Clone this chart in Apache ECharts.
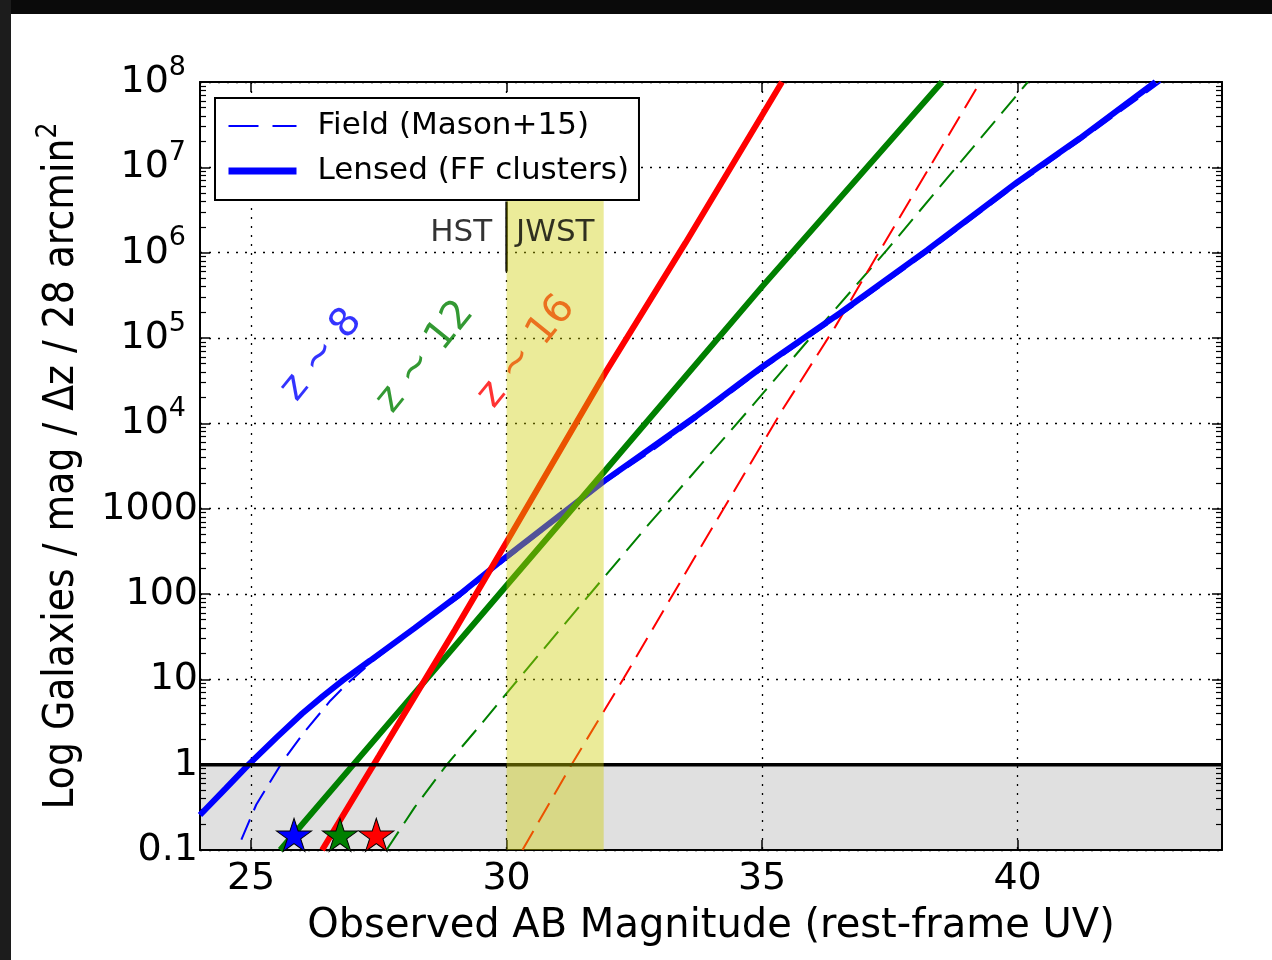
<!DOCTYPE html>
<html>
<head>
<meta charset="utf-8">
<script src="https://cdn.jsdelivr.net/npm/echarts@6/dist/echarts.min.js"></script>
<style>
  html, body { margin: 0; padding: 0; background: #fff; }
  #chart { width: 1272px; height: 960px; }
</style>
</head>
<body>
<div id="chart"></div>
<script>
// ---------- data ----------
// x: observed AB magnitude, y: galaxies / mag / dz / 28 arcmin^2
const xTicks = [25, 30, 35, 40];
const yTicks = [0.1, 1, 10, 100, 1000, 1e4, 1e5, 1e6, 1e7, 1e8];
const yTickLabels = ["0.1", "1", "10", "100", "1000", "10^4", "10^5", "10^6", "10^7", "10^8"];

// field (Mason+15), dashed
const fieldZ8Mag = [24.81, 25.1, 25.63, 26.0, 26.55, 26.9, 27.4, 28.2, 29.09, 30.0, 31.9, 32.8, 33.7, 34.57, 35.0, 36.52, 38.23, 40.0, 41.22, 42.8];
const fieldZ8N = [0.132, 0.339, 1.12, 2.24, 5.62, 9.12, 16.6, 38.9, 93.3, 257, 1990, 4570, 1.12e4, 2.75e4, 4.27e4, 1.82e5, 1.0e6, 6.31e6, 2.04e7, 1e8];
const fieldZ12Mag = [27.65, 28.2, 28.83, 29.48, 30.13, 31.04, 32.8, 34.8, 35.97, 37.44, 40.2];
const fieldZ12N = [0.1, 0.316, 1.0, 2.88, 8.51, 38, 676, 1.58e4, 1.05e5, 1.07e6, 1e8];
const fieldZ16Mag = [30.31, 31.27, 32.28, 33.8, 35.41, 36.43, 37.31, 39.27];
const fieldZ16N = [0.1, 1, 10, 355, 1.48e4, 1.35e5, 1.07e6, 1e8];

// lensed (FF clusters), solid
const lensZ8Mag = [24.0, 24.5, 24.95, 25.5, 26.0, 26.4, 26.8, 27.33, 28.2, 29.09, 30.0, 31.9, 32.8, 33.7, 34.57, 35.0, 36.52, 38.23, 40.0, 41.22, 42.7];
const lensZ8N = [0.257, 0.525, 1.0, 2.09, 3.98, 6.31, 9.77, 16.6, 39.8, 100, 275, 2090, 5010, 1.2e4, 2.95e4, 4.57e4, 1.95e5, 1.07e6, 6.76e6, 2.19e7, 1e8];
const lensZ12Mag = [25.57, 27.0, 28.43, 30.0, 31.93, 35.0, 38.52];
const lensZ12N = [0.1, 1.0, 10, 126, 2800, 4.0e5, 1e8];
const lensZ16Mag = [26.39, 27.5, 28.99, 30.0, 31.93, 33.5, 35.39];
const lensZ16N = [0.1, 1.26, 38, 407, 3.9e4, 1.3e6, 1e8];

// brightest observed objects (stars)
const starMag = [25.84, 26.74, 27.45];
const starN = [0.15, 0.15, 0.15];

// annotations
const zText = ["z ~ 8", "z ~ 12", "z ~ 16"];
const zTextMag = [26.38, 28.41, 30.39];
const zTextN = [6.3e4, 6.0e4, 6.9e4];

const jwstBand = [30.0, 31.9];      // magnitude range
const jwstBandTop = 4.47e6;
const hstLine = [6.03e5, 3.98e6];   // y range of the HST|JWST divider
const hstTextN = 1.7e6;

const BLUE = "#0000ff", GREEN = "#008000", RED = "#ff0000";
const FONT = "'DejaVu Sans', sans-serif";
const FONT_NARROW = "'DejaVu Sans Condensed', 'Liberation Sans Narrow', 'DejaVu Sans', sans-serif";

const pairs = (xs, ys) => xs.map((x, i) => [x, ys[i]]);

// minor ticks 2..9 in every decade
const yMinor = [];
for (let k = -1; k < 8; k++) {
  for (let d = 2; d <= 9; d++) yMinor.push(d * Math.pow(10, k));
}

const chart = echarts.init(document.getElementById("chart"));

const yLabelFmt = (v) => {
  let i = yTicks.findIndex((t) => Math.abs(Math.log10(t) - Math.log10(v)) < 1e-6);
  let s = i >= 0 ? yTickLabels[i] : "";
  if (s.indexOf("^") > 0) {
    let p = s.split("^");
    return "{b|" + p[0] + "}{s|" + p[1] + "}";
  }
  return "{b|" + s + "}";
};

const blackLine = { color: "#000", width: 2 };
const yBase = { type: "log", logBase: 10, min: 0.1, max: 1e8, z: 1 };
const xBase = { type: "value", min: 24, max: 44, z: 1 };

const dashed = (name, mag, n, color) => ({
  name: name, type: "line", data: pairs(mag, n), z: 2,
  showSymbol: false, symbol: "none", silent: true,
  lineStyle: { color: color, width: 2, type: [22, 10] },
  itemStyle: { color: color },
});
const solid = (name, mag, n, color) => ({
  name: name, type: "line", data: pairs(mag, n), z: 3,
  showSymbol: false, symbol: "none", silent: true,
  lineStyle: { color: color, width: 6 },
  itemStyle: { color: color },
});

const option = {
  animation: false,
  backgroundColor: "#fff",
  grid: { left: 200, right: 50, top: 82, bottom: 110 },
  graphic: [
    { type: "rect", shape: { x: 0, y: 0, width: 1272, height: 14 }, style: { fill: "#0a0a0a" }, silent: true },
    { type: "rect", shape: { x: 0, y: 0, width: 11, height: 960 }, style: { fill: "#1c1c1c" }, silent: true },
  ],
  legend: {
    data: [
      { name: "Field (Mason+15)", lineStyle: { width: 2, type: [30, 14], color: BLUE } },
      { name: "Lensed (FF clusters)", lineStyle: { width: 7, type: "solid", color: BLUE } },
    ],
    orient: "vertical",
    left: 215,
    top: 98,
    padding: [12, 10, 13, 10],
    itemWidth: 68,
    itemHeight: 20,
    itemGap: 13,
    backgroundColor: "#fff",
    borderColor: "#000",
    borderWidth: 2,
    borderRadius: 0,
    selectedMode: false,
    z: 10,
    itemStyle: { opacity: 0, color: "transparent", borderWidth: 0 },
    textStyle: { fontFamily: FONT, fontSize: 31, color: "#000", padding: [0, 0, 0, 16], lineHeight: 32 },
  },
  xAxis: [
    {
      ...xBase, position: "bottom",
      axisLine: { show: true, onZero: false, lineStyle: blackLine },
      axisTick: { show: true, inside: true, length: 10, customValues: xTicks, lineStyle: { color: "#000", width: 1.5 } },
      axisLabel: { customValues: xTicks, margin: 10, fontFamily: FONT, fontSize: 38, color: "#000" },
      splitLine: { show: true, lineStyle: { type: [2, 7], color: "#000", width: 1.3 } },
      name: "Observed AB Magnitude (rest-frame UV)",
      nameLocation: "middle",
      nameGap: 57,
      nameTextStyle: { fontFamily: FONT, fontSize: 40, color: "#000" },
    },
    {
      ...xBase, position: "top",
      axisLine: { show: true, onZero: false, lineStyle: blackLine },
      axisTick: { show: true, inside: true, length: 10, customValues: xTicks, lineStyle: { color: "#000", width: 1.5 } },
      axisLabel: { show: false },
      splitLine: { show: false },
    },
  ],
  yAxis: [
    {
      ...yBase, position: "left",
      axisLine: { show: true, onZero: false, lineStyle: blackLine },
      axisTick: { show: true, inside: true, length: 10, customValues: yTicks, lineStyle: { color: "#000", width: 1.5 } },
      axisLabel: {
        customValues: yTicks, margin: 2, formatter: yLabelFmt, color: "#000",
        fontFamily: FONT, fontSize: 38, lineHeight: 56,
        rich: {
          b: { fontFamily: FONT, fontSize: 38, color: "#000" },
          s: { fontFamily: FONT, fontSize: 27, color: "#000", verticalAlign: "top", lineHeight: 27, padding: [0, 12, 0, 0] },
        },
      },
      splitLine: { show: true, lineStyle: { type: [2, 7], color: "#000", width: 1.3 } },
      name: "Log Galaxies / mag / \u0394z / 28 arcmin{s|2}",
      nameLocation: "middle",
      nameGap: 105,
      nameTextStyle: {
        fontFamily: FONT_NARROW, fontSize: 42, color: "#000", lineHeight: 56,
        rich: { s: { fontFamily: FONT_NARROW, fontSize: 28, color: "#000", verticalAlign: "top", lineHeight: 28 } },
      },
    },
    {
      ...yBase, position: "left",
      axisLine: { show: false },
      axisTick: { show: true, inside: true, length: 6, customValues: yMinor, lineStyle: { color: "#000", width: 1.2 } },
      axisLabel: { show: false },
      splitLine: { show: false },
    },
    {
      ...yBase, position: "right",
      axisLine: { show: true, onZero: false, lineStyle: blackLine },
      axisTick: { show: true, inside: true, length: 10, customValues: yTicks, lineStyle: { color: "#000", width: 1.5 } },
      axisLabel: { show: false },
      splitLine: { show: false },
    },
    {
      ...yBase, position: "right",
      axisLine: { show: false },
      axisTick: { show: true, inside: true, length: 6, customValues: yMinor, lineStyle: { color: "#000", width: 1.2 } },
      axisLabel: { show: false },
      splitLine: { show: false },
    },
  ],
  series: [
    // grey "less than one galaxy" region
    {
      name: "below1", type: "line", data: [[24, 1]], showSymbol: false, symbol: "none", silent: true,
      lineStyle: { width: 0 }, z: 0.5,
      markArea: {
        silent: true, z: 0.5, itemStyle: { color: "#e0e0e0" },
        data: [[{ coord: [24, 0.1] }, { coord: [44, 1] }]],
      },
    },
    dashed("Field (Mason+15)", fieldZ8Mag, fieldZ8N, BLUE),
    dashed("field z12", fieldZ12Mag, fieldZ12N, GREEN),
    dashed("field z16", fieldZ16Mag, fieldZ16N, RED),
    solid("Lensed (FF clusters)", lensZ8Mag, lensZ8N, BLUE),
    solid("lensed z12", lensZ12Mag, lensZ12N, GREEN),
    solid("lensed z16", lensZ16Mag, lensZ16N, RED),
    {
      name: "one", type: "line", data: [[24, 1], [44, 1]], z: 3.5, showSymbol: false, symbol: "none", silent: true,
      lineStyle: { color: "#000", width: 3.5 },
    },
    {
      name: "divider", type: "line", data: [[jwstBand[0], hstLine[0]], [jwstBand[0], hstLine[1]]], z: 3.5,
      showSymbol: false, symbol: "none", silent: true,
      lineStyle: { color: "#000", width: 2.5 },
    },
    {
      name: "zlabels", type: "scatter", z: 3.6, silent: true, symbolSize: 1,
      itemStyle: { color: "transparent" },
      data: zText.map((t, i) => ({
        value: [zTextMag[i], zTextN[i]],
        label: {
          show: true, position: "inside", formatter: t, rotate: 51,
          fontFamily: FONT, fontSize: 40, color: [BLUE, GREEN, RED][i],
        },
      })),
    },
    // JWST band on top of lines
    {
      name: "band", type: "line", data: [[jwstBand[0], 1]], showSymbol: false, symbol: "none", silent: true,
      lineStyle: { width: 0 }, z: 4,
      markArea: {
        silent: true, z: 4, itemStyle: { color: "rgba(204,204,0,0.4)" },
        data: [[{ coord: [jwstBand[0], 0.1] }, { coord: [jwstBand[1], jwstBandTop] }]],
      },
    },
    {
      name: "hst", type: "scatter", z: 5, silent: true, symbolSize: 1,
      itemStyle: { color: "transparent" },
      data: [
        { value: [jwstBand[0], hstTextN], label: { show: true, position: "left", distance: 14, formatter: "HST", fontFamily: FONT, fontSize: 31, color: "#000" } },
        { value: [jwstBand[0], hstTextN], label: { show: true, position: "right", distance: 9, formatter: "JWST", fontFamily: FONT, fontSize: 31, color: "#000" } },
      ],
    },
    {
      name: "stars", type: "scatter", z: 5, silent: true,
      symbol: "path://M50,0 L61.8,35.4 L100,35.4 L69.1,57.3 L80.9,92.7 L50,70.8 L19.1,92.7 L30.9,57.3 L0,35.4 L38.2,35.4 Z",
      symbolSize: [35, 33],
      data: starMag.map((m, i) => ({
        value: [m, starN[i]],
        itemStyle: { color: [BLUE, GREEN, RED][i], borderColor: "#000", borderWidth: 1, opacity: 1 },
      })),
    },
  ],
};

chart.setOption(option);
</script>
</body>
</html>
